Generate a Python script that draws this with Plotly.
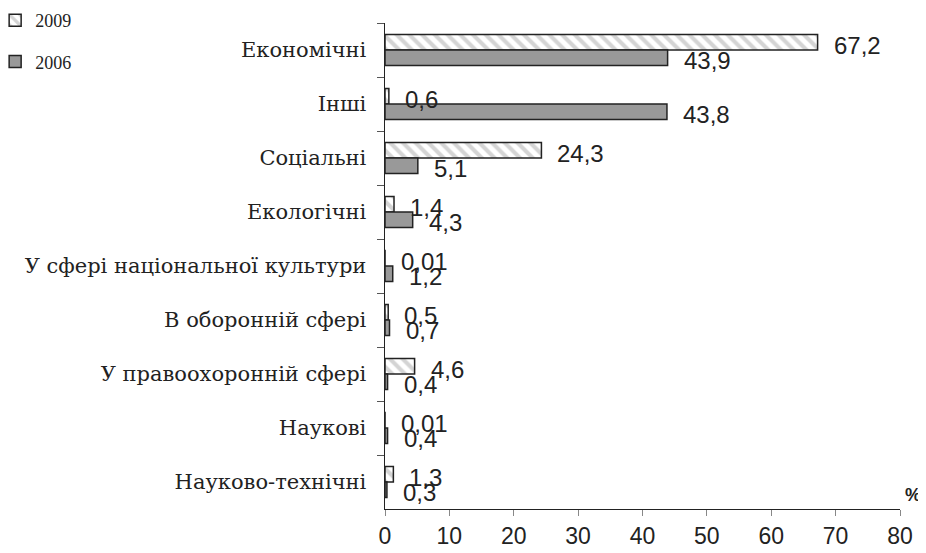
import plotly.graph_objects as go

categories = ["Економічні", "Інші", "Соціальні", "Екологічні",
              "У сфері національної культури", "В оборонній сфері",
              "У правоохоронній сфері", "Наукові", "Науково-технічні"]
values_2009 = [67.2, 0.6, 24.3, 1.4, 0.01, 0.5, 4.6, 0.01, 1.3]
values_2006 = [43.9, 43.8, 5.1, 4.3, 1.2, 0.7, 0.4, 0.4, 0.3]
labels_2009 = ["67,2", "0,6", "24,3", "1,4", "0,01", "0,5", "4,6", "0,01", "1,3"]
labels_2006 = ["43,9", "43,8", "5,1", "4,3", "1,2", "0,7", "0,4", "0,4", "0,3"]
x_ticks = [0, 10, 20, 30, 40, 50, 60, 70, 80]

SERIF = "Liberation Serif"
CYR_SERIF = "DejaVu Serif"
SANS = "Liberation Sans"

fig = go.Figure()
fig.add_trace(go.Bar(
    y=categories, x=values_2009, orientation="h", name="2009",
    marker=dict(color="white", line=dict(color="#222222", width=1.5),
                pattern=dict(shape="\\", fgcolor="#aaaaaa", bgcolor="white",
                             size=9, solidity=0.45)),
    legend="legend",
))
fig.add_trace(go.Bar(
    y=categories, x=values_2006, orientation="h", name="2006",
    marker=dict(color="#999999", line=dict(color="#222222", width=1.5)),
    legend="legend2",
))

label_font = dict(family=SANS, size=24, color="#222222")
for c, v, t in zip(categories, values_2009, labels_2009):
    fig.add_annotation(x=v, y=c, text=t, showarrow=False, xanchor="left",
                       xshift=14, yshift=5, font=label_font)
for c, v, t in zip(categories, values_2006, labels_2006):
    fig.add_annotation(x=v, y=c, text=t, showarrow=False, xanchor="left",
                       xshift=14, yshift=-10, font=label_font)

fig.add_annotation(x=1, y=0, xref="paper", yref="paper", text="<b>%</b>",
                   showarrow=False, xanchor="left", yanchor="bottom",
                   xshift=3, yshift=2,
                   font=dict(family=SANS, size=18, color="#222222"))

fig.update_layout(
    width=918, height=545,
    margin=dict(l=377, r=26, t=15, b=44, autoexpand=False),
    paper_bgcolor="white", plot_bgcolor="white",
    barmode="group", bargap=0.43, bargroupgap=0,
    showlegend=True,
    legend=dict(x=-0.757, y=1.005, xanchor="left", yanchor="middle",
                bgcolor="rgba(0,0,0,0)",
                font=dict(family=SERIF, size=18, color="#222222"),
                itemwidth=30, traceorder="normal"),
    legend2=dict(x=-0.757, y=0.92, xanchor="left", yanchor="middle",
                 bgcolor="rgba(0,0,0,0)",
                 font=dict(family=SERIF, size=18, color="#222222"),
                 itemwidth=30),
    xaxis=dict(range=[0, 80], tickvals=x_ticks, ticktext=[str(v) for v in x_ticks],
               showgrid=False, zeroline=False, showline=True, linecolor="#222222",
               linewidth=1.2, ticks="outside", ticklen=6, tickcolor="#888888",
               automargin=False,
               tickfont=dict(family=SANS, size=23, color="#222222")),
    yaxis=dict(autorange="reversed", showgrid=False, showline=True,
               linecolor="#222222", linewidth=1.2, ticks="outside", ticklen=7,
               tickcolor="#555555", tickson="boundaries",
               ticksuffix="\u00a0\u00a0", automargin=False,
               tickfont=dict(family=CYR_SERIF, size=21, color="#222222")),
)

fig.write_html("out.html")
